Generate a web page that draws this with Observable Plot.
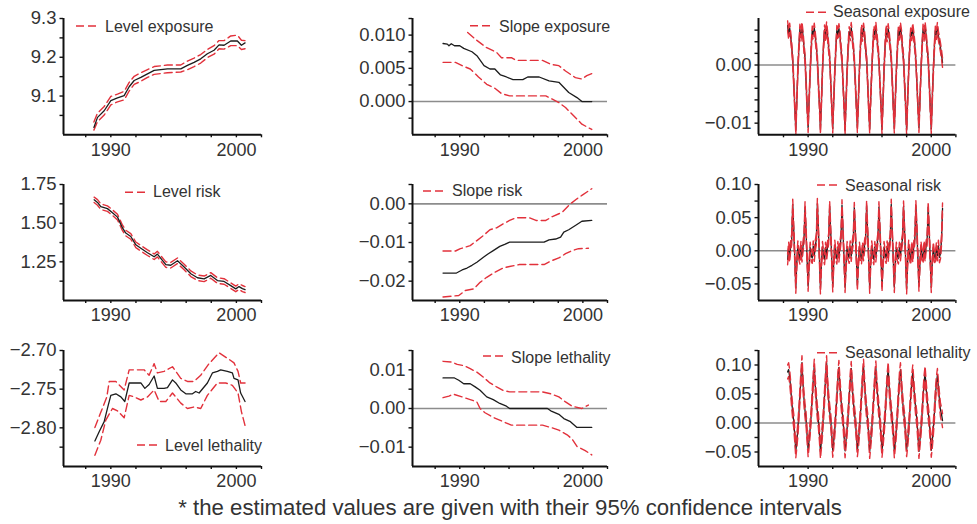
<!DOCTYPE html>
<html><head><meta charset="utf-8">
<script src="https://cdn.jsdelivr.net/npm/d3@7"></script>
<script src="https://cdn.jsdelivr.net/npm/@observablehq/plot@0.6"></script>
<style>
body{margin:0;background:#fff;font-family:"Liberation Sans",Arial,sans-serif;}
#fig{position:relative;width:977px;height:524px;overflow:hidden;background:#fff}
</style></head><body><div id="fig"></div><script>
// ---------- x axis ----------
const xTicks = [1988, 1990, 1992, 1994, 1996, 1998, 2000, 2002];
const xTickLabels = [1990, 2000];

// ---------- Level exposure ----------
const levelExposureYears = [1988.65, 1988.94, 1989.47, 1990.0, 1990.53, 1991.06, 1991.46, 1991.86, 1992.39, 1992.92, 1993.45, 1994.51, 1995.57, 1996.1, 1996.63, 1997.16, 1997.69, 1998.22, 1998.62, 1999.02, 1999.55, 2000.08, 2000.4, 2000.69];
const levelExposureEst = [9.019, 9.045, 9.062, 9.088, 9.095, 9.101, 9.124, 9.140, 9.148, 9.157, 9.166, 9.170, 9.170, 9.179, 9.187, 9.196, 9.209, 9.218, 9.232, 9.231, 9.242, 9.242, 9.231, 9.237];
const levelExposureUpper = [9.033, 9.056, 9.073, 9.099, 9.105, 9.112, 9.135, 9.151, 9.160, 9.168, 9.176, 9.180, 9.180, 9.190, 9.198, 9.207, 9.220, 9.230, 9.243, 9.243, 9.255, 9.257, 9.244, 9.243];
const levelExposureLower = [9.012, 9.034, 9.051, 9.077, 9.085, 9.090, 9.113, 9.130, 9.138, 9.148, 9.156, 9.160, 9.162, 9.168, 9.176, 9.185, 9.199, 9.208, 9.222, 9.221, 9.230, 9.230, 9.220, 9.222];
const levelExposureTicks = [9.05, 9.1, 9.15, 9.2, 9.25, 9.3];
const levelExposureTickLabels = [9.1, 9.2, 9.3];

// ---------- Slope exposure ----------
const slopeExposureYears = [1988.64, 1988.99, 1989.12, 1989.31, 1989.57, 1990.0, 1990.32, 1990.99, 1991.39, 1991.97, 1992.45, 1992.85, 1993.31, 1993.79, 1994.32, 1995.12, 1995.52, 1996.45, 1997.25, 1998.05, 1998.85, 1999.52, 1999.92, 2000.72];
const slopeExposureEst = [0.00874, 0.00864, 0.0084, 0.0087, 0.0084, 0.0084, 0.0080, 0.0075, 0.0069, 0.0054, 0.0049, 0.0049, 0.0040, 0.0037, 0.0033, 0.0033, 0.0037, 0.0037, 0.0031, 0.0029, 0.00136, 0.0006, 0.0, 0.0];
const slopeExposureUpperYears = [1990.64, 1991.39, 1992.19, 1992.99, 1993.39, 1994.19, 1994.59, 1996.72, 1997.39, 1998.05, 1998.59, 1999.39, 1999.92, 2000.32, 2000.72];
const slopeExposureUpper = [0.0104, 0.0092, 0.0081, 0.0074, 0.0066, 0.0066, 0.0062, 0.0062, 0.0056, 0.0054, 0.0046, 0.0036, 0.0034, 0.0039, 0.0042];
const slopeExposureLowerYears = [1988.64, 1989.65, 1990.19, 1990.85, 1991.52, 1992.19, 1992.85, 1993.39, 1994.05, 1996.99, 1997.52, 1998.05, 1998.59, 1999.39, 1999.92, 2000.72];
const slopeExposureLower = [0.0059, 0.0059, 0.0054, 0.0049, 0.0037, 0.0026, 0.0020, 0.0012, 0.00085, 0.00085, 0.00035, -0.00015, -0.0009, -0.0024, -0.0034, -0.0042];
const slopeExposureTicks = [-0.0025, 0, 0.0025, 0.005, 0.0075, 0.01, 0.0125];
const slopeExposureTickLabels = [0, 0.005, 0.01];

// ---------- Level risk ----------
const levelRiskYears = [1988.67, 1988.94, 1989.2, 1989.73, 1990.13, 1990.53, 1990.93, 1991.19, 1991.59, 1991.99, 1992.39, 1992.92, 1993.45, 1993.71, 1993.98, 1994.38, 1994.77, 1995.31, 1995.84, 1996.37, 1996.9, 1997.43, 1997.96, 1998.49, 1999.02, 1999.55, 1999.95, 2000.21, 2000.48, 2000.69];
const levelRiskEst = [1.651, 1.634, 1.607, 1.594, 1.568, 1.539, 1.469, 1.436, 1.414, 1.360, 1.338, 1.309, 1.283, 1.300, 1.272, 1.232, 1.228, 1.257, 1.217, 1.173, 1.147, 1.140, 1.162, 1.129, 1.123, 1.096, 1.075, 1.090, 1.077, 1.070];
const levelRiskUpper = [1.668, 1.652, 1.625, 1.612, 1.586, 1.557, 1.487, 1.454, 1.432, 1.378, 1.356, 1.327, 1.301, 1.318, 1.290, 1.250, 1.246, 1.275, 1.235, 1.191, 1.165, 1.158, 1.180, 1.147, 1.141, 1.114, 1.093, 1.108, 1.097, 1.090];
const levelRiskLower = [1.634, 1.616, 1.589, 1.576, 1.550, 1.521, 1.451, 1.418, 1.396, 1.342, 1.320, 1.291, 1.265, 1.282, 1.254, 1.214, 1.210, 1.239, 1.199, 1.155, 1.129, 1.122, 1.144, 1.111, 1.105, 1.078, 1.057, 1.072, 1.057, 1.052];
const levelRiskTicks = [1.125, 1.25, 1.375, 1.5, 1.625, 1.75];
const levelRiskTickLabels = [1.25, 1.5, 1.75];

// ---------- Slope risk ----------
const slopeRiskYears = [1988.64, 1989.73, 1990.19, 1990.59, 1990.99, 1991.39, 1991.92, 1992.32, 1992.72, 1993.25, 1993.65, 1994.05, 1996.85, 1997.25, 1997.79, 1998.19, 1998.45, 1998.85, 1999.39, 1999.92, 2000.72];
const slopeRiskEst = [-0.0179, -0.0179, -0.0171, -0.0166, -0.0159, -0.0151, -0.0138, -0.0129, -0.0121, -0.0110, -0.0105, -0.0099, -0.0099, -0.0093, -0.0091, -0.0086, -0.0073, -0.0067, -0.0056, -0.0045, -0.0043];
const slopeRiskUpperYears = [1988.64, 1989.65, 1990.05, 1990.85, 1991.39, 1991.92, 1992.45, 1992.99, 1993.52, 1994.05, 1994.59, 1995.65, 1996.19, 1996.99, 1997.52, 1998.32, 1998.99, 1999.52, 1999.92, 2000.72];
const slopeRiskUpper = [-0.0122, -0.0122, -0.0116, -0.0108, -0.0095, -0.0082, -0.0067, -0.0062, -0.0052, -0.0043, -0.0036, -0.0036, -0.0043, -0.0043, -0.0033, -0.0022, 0.0, 0.0013, 0.0022, 0.0039];
const slopeRiskLowerYears = [1988.64, 1989.92, 1990.45, 1991.12, 1991.65, 1992.19, 1992.85, 1993.52, 1994.05, 1994.85, 1996.85, 1997.39, 1998.05, 1998.59, 1999.12, 1999.65, 2000.45];
const slopeRiskLower = [-0.0241, -0.0237, -0.0224, -0.0220, -0.0203, -0.0190, -0.0177, -0.0166, -0.0162, -0.0157, -0.0157, -0.0148, -0.0140, -0.0129, -0.0121, -0.0116, -0.0115];
const slopeRiskTicks = [-0.02, -0.015, -0.01, -0.005, 0, 0.005];
const slopeRiskTickLabels = [-0.02, -0.01, 0];

// ---------- Level lethality ----------
const levelLethalityYears = [1988.73, 1989.07, 1989.47, 1989.79, 1990.0, 1990.4, 1990.8, 1991.11, 1991.46, 1991.86, 1992.39, 1992.71, 1993.05, 1993.45, 1993.71, 1994.24, 1994.51, 1994.91, 1995.17, 1995.57, 1995.97, 1996.5, 1996.76, 1997.03, 1997.69, 1998.09, 1998.49, 1998.75, 1999.28, 1999.68, 1999.81, 2000.13, 2000.34, 2000.69];
const levelLethalityEst = [-2.817, -2.805, -2.792, -2.771, -2.758, -2.756, -2.760, -2.766, -2.742, -2.742, -2.742, -2.749, -2.744, -2.733, -2.749, -2.749, -2.748, -2.738, -2.742, -2.751, -2.756, -2.756, -2.753, -2.755, -2.742, -2.729, -2.727, -2.725, -2.727, -2.729, -2.736, -2.738, -2.755, -2.766];
const levelLethalityUpperYears = [1988.73, 1989.2, 1989.68, 1989.87, 1990.4, 1991.06, 1991.46, 1992.65, 1993.05, 1993.45, 1993.71, 1994.24, 1994.91, 1995.57, 1996.1, 1996.63, 1997.16, 1997.82, 1998.62, 1999.28, 1999.81, 2000.13, 2000.34, 2000.69];
const levelLethalityUpper = [-2.7996, -2.780, -2.760, -2.740, -2.740, -2.751, -2.725, -2.725, -2.732, -2.717, -2.729, -2.727, -2.721, -2.736, -2.740, -2.740, -2.732, -2.717, -2.703, -2.710, -2.716, -2.727, -2.742, -2.742];
const levelLethalityLowerYears = [1988.73, 1989.2, 1989.6, 1990.13, 1990.53, 1991.06, 1991.46, 1991.86, 1992.39, 1992.92, 1993.45, 1993.85, 1994.38, 1994.91, 1995.57, 1996.1, 1996.63, 1997.16, 1997.69, 1998.49, 1999.15, 1999.68, 2000.13, 2000.4, 2000.69];
const levelLethalityLower = [-2.8355, -2.816, -2.790, -2.775, -2.778, -2.787, -2.758, -2.760, -2.764, -2.760, -2.751, -2.766, -2.766, -2.755, -2.768, -2.775, -2.773, -2.775, -2.758, -2.742, -2.742, -2.745, -2.755, -2.779, -2.797];
const levelLethalityTicks = [-2.825, -2.8, -2.775, -2.75, -2.725, -2.7];
const levelLethalityTickLabels = [-2.8, -2.75, -2.7];

// ---------- Slope lethality ----------
const slopeLethalityYears = [1988.64, 1989.57, 1989.92, 1990.32, 1990.85, 1991.25, 1991.65, 1992.19, 1992.72, 1993.25, 1993.79, 1994.05, 1997.12, 1997.39, 1998.05, 1998.45, 1998.99, 1999.52, 2000.19, 2000.72];
const slopeLethalityEst = [0.0079, 0.0079, 0.0073, 0.0064, 0.0064, 0.0056, 0.0047, 0.0030, 0.0023, 0.0013, 0.0006, 0.0, 0.0, -0.0006, -0.0015, -0.0026, -0.0034, -0.0049, -0.0049, -0.0049];
const slopeLethalityUpperYears = [1988.64, 1989.39, 1989.79, 1990.32, 1990.85, 1991.39, 1991.92, 1992.45, 1992.99, 1993.52, 1994.05, 1996.72, 1997.39, 1998.05, 1998.59, 1999.12, 1999.92, 2000.45];
const slopeLethalityUpper = [0.0122, 0.0120, 0.0114, 0.0111, 0.0103, 0.0094, 0.0081, 0.0066, 0.0056, 0.0047, 0.0043, 0.0043, 0.0038, 0.0030, 0.0017, 0.0006, 0.0, 0.0009];
const slopeLethalityLowerYears = [1988.64, 1989.12, 1989.47, 1990.19, 1990.85, 1991.39, 1991.65, 1992.05, 1992.72, 1993.52, 1994.19, 1996.72, 1997.39, 1998.05, 1998.72, 1999.12, 1999.52, 2000.19, 2000.72];
const slopeLethalityLower = [0.0028, 0.0032, 0.0037, 0.0030, 0.0023, 0.0017, 0.0, -0.0011, -0.0023, -0.0034, -0.0043, -0.0043, -0.0049, -0.0056, -0.0068, -0.0079, -0.0098, -0.0109, -0.0120];
const slopeLethalityTicks = [-0.01, -0.005, 0, 0.005, 0.01, 0.015];
const slopeLethalityTickLabels = [-0.01, 0, 0.01];

// ---------- Seasonal components: monthly, May 1988 .. Dec 2000 ----------
const seasonalFirstYear = 1988, seasonalFirstMonth = 5;
const seasonalExposureEst = [
 0.0068, 0.0052, 0.0064, 0.0049, 0.0031, 0.0009, -0.0031, -0.0071,
 -0.0112, -0.0061, -0.0008, 0.0031, 0.0062, 0.0049, 0.0066, 0.0051, 0.0029, 0.0011, -0.0029, -0.0072,
 -0.0108, -0.0058, -0.0012, 0.0029, 0.0059, 0.0052, 0.0064, 0.0048, 0.0031, 0.0009, -0.0032, -0.0068,
 -0.0111, -0.0062, -0.0009, 0.0032, 0.0061, 0.0048, 0.0066, 0.0050, 0.0030, 0.0012, -0.0028, -0.0071,
 -0.0109, -0.0059, -0.0011, 0.0028, 0.0060, 0.0051, 0.0063, 0.0052, 0.0029, 0.0010, -0.0031, -0.0069,
 -0.0112, -0.0061, -0.0010, 0.0030, 0.0058, 0.0050, 0.0065, 0.0049, 0.0032, 0.0008, -0.0030, -0.0070,
 -0.0108, -0.0060, -0.0009, 0.0031, 0.0062, 0.0049, 0.0064, 0.0051, 0.0028, 0.0011, -0.0029, -0.0072,
 -0.0110, -0.0058, -0.0012, 0.0029, 0.0059, 0.0052, 0.0066, 0.0048, 0.0030, 0.0009, -0.0032, -0.0068,
 -0.0111, -0.0062, -0.0008, 0.0032, 0.0061, 0.0048, 0.0063, 0.0050, 0.0031, 0.0012, -0.0028, -0.0071,
 -0.0109, -0.0059, -0.0011, 0.0028, 0.0060, 0.0051, 0.0065, 0.0052, 0.0029, 0.0010, -0.0031, -0.0069,
 -0.0112, -0.0061, -0.0010, 0.0030, 0.0058, 0.0050, 0.0064, 0.0049, 0.0032, 0.0008, -0.0030, -0.0070,
 -0.0108, -0.0060, -0.0009, 0.0031, 0.0062, 0.0049, 0.0066, 0.0051, 0.0028, 0.0011, -0.0029, -0.0072,
 -0.0110, -0.0058, -0.0012, 0.0029, 0.0059, 0.0052, 0.0065, 0.0050, 0.0040, 0.0030, 0.0018, 0.0004];
const seasonalExposureUpper = [
 0.0076, 0.0060, 0.0072, 0.0057, 0.0039, 0.0017, -0.0023, -0.0063,
 -0.0104, -0.0053, 0.0000, 0.0039, 0.0070, 0.0057, 0.0074, 0.0059, 0.0037, 0.0019, -0.0021, -0.0064,
 -0.0100, -0.0050, -0.0004, 0.0037, 0.0067, 0.0060, 0.0072, 0.0056, 0.0039, 0.0017, -0.0024, -0.0060,
 -0.0103, -0.0054, -0.0001, 0.0040, 0.0069, 0.0056, 0.0074, 0.0058, 0.0038, 0.0020, -0.0020, -0.0063,
 -0.0101, -0.0051, -0.0003, 0.0036, 0.0068, 0.0059, 0.0071, 0.0060, 0.0037, 0.0018, -0.0023, -0.0061,
 -0.0104, -0.0053, -0.0002, 0.0038, 0.0066, 0.0058, 0.0073, 0.0057, 0.0040, 0.0016, -0.0022, -0.0062,
 -0.0100, -0.0052, -0.0001, 0.0039, 0.0070, 0.0057, 0.0072, 0.0059, 0.0036, 0.0019, -0.0021, -0.0064,
 -0.0102, -0.0050, -0.0004, 0.0037, 0.0067, 0.0060, 0.0074, 0.0056, 0.0038, 0.0017, -0.0024, -0.0060,
 -0.0103, -0.0054, 0.0000, 0.0040, 0.0069, 0.0056, 0.0071, 0.0058, 0.0039, 0.0020, -0.0020, -0.0063,
 -0.0101, -0.0051, -0.0003, 0.0036, 0.0068, 0.0059, 0.0073, 0.0060, 0.0037, 0.0018, -0.0023, -0.0061,
 -0.0104, -0.0053, -0.0002, 0.0038, 0.0066, 0.0058, 0.0072, 0.0057, 0.0040, 0.0016, -0.0022, -0.0062,
 -0.0100, -0.0052, -0.0001, 0.0039, 0.0070, 0.0057, 0.0074, 0.0059, 0.0036, 0.0019, -0.0021, -0.0064,
 -0.0102, -0.0050, -0.0004, 0.0037, 0.0067, 0.0060, 0.0073, 0.0058, 0.0048, 0.0038, 0.0026, 0.0012];
const seasonalExposureLower = [
 0.0060, 0.0044, 0.0056, 0.0041, 0.0023, 0.0001, -0.0039, -0.0079,
 -0.0120, -0.0069, -0.0016, 0.0023, 0.0054, 0.0041, 0.0058, 0.0043, 0.0021, 0.0003, -0.0037, -0.0080,
 -0.0116, -0.0066, -0.0020, 0.0021, 0.0051, 0.0044, 0.0056, 0.0040, 0.0023, 0.0001, -0.0040, -0.0076,
 -0.0119, -0.0070, -0.0017, 0.0024, 0.0053, 0.0040, 0.0058, 0.0042, 0.0022, 0.0004, -0.0036, -0.0079,
 -0.0117, -0.0067, -0.0019, 0.0020, 0.0052, 0.0043, 0.0055, 0.0044, 0.0021, 0.0002, -0.0039, -0.0077,
 -0.0120, -0.0069, -0.0018, 0.0022, 0.0050, 0.0042, 0.0057, 0.0041, 0.0024, 0.0000, -0.0038, -0.0078,
 -0.0116, -0.0068, -0.0017, 0.0023, 0.0054, 0.0041, 0.0056, 0.0043, 0.0020, 0.0003, -0.0037, -0.0080,
 -0.0118, -0.0066, -0.0020, 0.0021, 0.0051, 0.0044, 0.0058, 0.0040, 0.0022, 0.0001, -0.0040, -0.0076,
 -0.0119, -0.0070, -0.0016, 0.0024, 0.0053, 0.0040, 0.0055, 0.0042, 0.0023, 0.0004, -0.0036, -0.0079,
 -0.0117, -0.0067, -0.0019, 0.0020, 0.0052, 0.0043, 0.0057, 0.0044, 0.0021, 0.0002, -0.0039, -0.0077,
 -0.0120, -0.0069, -0.0018, 0.0022, 0.0050, 0.0042, 0.0056, 0.0041, 0.0024, 0.0000, -0.0038, -0.0078,
 -0.0116, -0.0068, -0.0017, 0.0023, 0.0054, 0.0041, 0.0058, 0.0043, 0.0020, 0.0003, -0.0037, -0.0080,
 -0.0118, -0.0066, -0.0020, 0.0021, 0.0051, 0.0044, 0.0057, 0.0042, 0.0032, 0.0022, 0.0010, -0.0004];
const seasonalExposureTicks = [-0.01, -0.008, -0.006, -0.004, -0.002, 0, 0.002, 0.004, 0.006];
const seasonalExposureTickLabels = [-0.01, 0];

const seasonalRiskEst = [
 -0.013, 0.005, -0.009, 0.008, 0.017, 0.070, 0.031, -0.011,
 -0.056, -0.017, 0.007, -0.006, -0.012, 0.006, -0.009, 0.006, 0.019, 0.066, 0.028, -0.013,
 -0.053, -0.019, 0.005, -0.008, -0.011, 0.007, -0.008, 0.008, 0.017, 0.071, 0.032, -0.010,
 -0.057, -0.018, 0.006, -0.007, -0.013, 0.005, -0.007, 0.007, 0.018, 0.067, 0.029, -0.012,
 -0.054, -0.016, 0.008, -0.007, -0.012, 0.006, -0.009, 0.006, 0.019, 0.069, 0.031, -0.013,
 -0.055, -0.019, 0.006, -0.006, -0.011, 0.007, -0.008, 0.007, 0.017, 0.065, 0.030, -0.011,
 -0.052, -0.018, 0.005, -0.008, -0.012, 0.005, -0.007, 0.008, 0.018, 0.068, 0.029, -0.012,
 -0.056, -0.017, 0.007, -0.007, -0.013, 0.006, -0.009, 0.006, 0.019, 0.066, 0.031, -0.010,
 -0.054, -0.019, 0.006, -0.006, -0.011, 0.007, -0.008, 0.007, 0.017, 0.070, 0.028, -0.013,
 -0.055, -0.018, 0.005, -0.008, -0.012, 0.005, -0.007, 0.008, 0.018, 0.067, 0.030, -0.011,
 -0.057, -0.016, 0.008, -0.007, -0.013, 0.006, -0.009, 0.006, 0.019, 0.068, 0.032, -0.012,
 -0.053, -0.018, 0.006, -0.006, -0.011, 0.007, -0.008, 0.007, 0.017, 0.066, 0.029, -0.013,
 -0.055, -0.017, 0.005, -0.008, -0.012, 0.005, -0.007, 0.008, -0.010, -0.004, 0.016, 0.064];
const seasonalRiskUpper = [
 -0.005, 0.013, -0.001, 0.016, 0.025, 0.078, 0.039, -0.003,
 -0.048, -0.009, 0.015, 0.002, -0.004, 0.014, -0.001, 0.014, 0.027, 0.074, 0.036, -0.005,
 -0.045, -0.011, 0.013, 0.000, -0.003, 0.015, 0.000, 0.016, 0.025, 0.079, 0.040, -0.002,
 -0.049, -0.010, 0.014, 0.001, -0.005, 0.013, 0.001, 0.015, 0.026, 0.075, 0.037, -0.004,
 -0.046, -0.008, 0.016, 0.001, -0.004, 0.014, -0.001, 0.014, 0.027, 0.077, 0.039, -0.005,
 -0.047, -0.011, 0.014, 0.002, -0.003, 0.015, 0.000, 0.015, 0.025, 0.073, 0.038, -0.003,
 -0.044, -0.010, 0.013, 0.000, -0.004, 0.013, 0.001, 0.016, 0.026, 0.076, 0.037, -0.004,
 -0.048, -0.009, 0.015, 0.001, -0.005, 0.014, -0.001, 0.014, 0.027, 0.074, 0.039, -0.002,
 -0.046, -0.011, 0.014, 0.002, -0.003, 0.015, 0.000, 0.015, 0.025, 0.078, 0.036, -0.005,
 -0.047, -0.010, 0.013, 0.000, -0.004, 0.013, 0.001, 0.016, 0.026, 0.075, 0.038, -0.003,
 -0.049, -0.008, 0.016, 0.001, -0.005, 0.014, -0.001, 0.014, 0.027, 0.076, 0.040, -0.004,
 -0.045, -0.010, 0.014, 0.002, -0.003, 0.015, 0.000, 0.015, 0.025, 0.074, 0.037, -0.005,
 -0.047, -0.009, 0.013, 0.000, -0.004, 0.013, 0.001, 0.016, -0.002, 0.004, 0.024, 0.072];
const seasonalRiskLower = [
 -0.021, -0.003, -0.017, 0.000, 0.009, 0.062, 0.023, -0.019,
 -0.064, -0.025, -0.001, -0.014, -0.020, -0.002, -0.017, -0.002, 0.011, 0.058, 0.020, -0.021,
 -0.061, -0.027, -0.003, -0.016, -0.019, -0.001, -0.016, 0.000, 0.009, 0.063, 0.024, -0.018,
 -0.065, -0.026, -0.002, -0.015, -0.021, -0.003, -0.015, -0.001, 0.010, 0.059, 0.021, -0.020,
 -0.062, -0.024, 0.000, -0.015, -0.020, -0.002, -0.017, -0.002, 0.011, 0.061, 0.023, -0.021,
 -0.063, -0.027, -0.002, -0.014, -0.019, -0.001, -0.016, -0.001, 0.009, 0.057, 0.022, -0.019,
 -0.060, -0.026, -0.003, -0.016, -0.020, -0.003, -0.015, 0.000, 0.010, 0.060, 0.021, -0.020,
 -0.064, -0.025, -0.001, -0.015, -0.021, -0.002, -0.017, -0.002, 0.011, 0.058, 0.023, -0.018,
 -0.062, -0.027, -0.002, -0.014, -0.019, -0.001, -0.016, -0.001, 0.009, 0.062, 0.020, -0.021,
 -0.063, -0.026, -0.003, -0.016, -0.020, -0.003, -0.015, 0.000, 0.010, 0.059, 0.022, -0.019,
 -0.065, -0.024, 0.000, -0.015, -0.021, -0.002, -0.017, -0.002, 0.011, 0.060, 0.024, -0.020,
 -0.061, -0.026, -0.002, -0.014, -0.019, -0.001, -0.016, -0.001, 0.009, 0.058, 0.021, -0.021,
 -0.063, -0.025, -0.003, -0.016, -0.020, -0.003, -0.015, 0.000, -0.018, -0.012, 0.008, 0.056];
const seasonalRiskTicks = [-0.05, -0.025, 0, 0.025, 0.05, 0.075, 0.1];
const seasonalRiskTickLabels = [-0.05, 0, 0.05, 0.1];

const seasonalLethalityEst = [
 0.088, 0.092, 0.080, 0.060, 0.038, 0.018, 0.003, -0.022,
 -0.048, -0.031, -0.011, 0.016, 0.047, 0.078, 0.104, 0.068, 0.041, 0.021, 0.006, -0.021,
 -0.046, -0.029, -0.009, 0.014, 0.044, 0.074, 0.098, 0.064, 0.039, 0.019, 0.004, -0.019,
 -0.049, -0.031, -0.010, 0.015, 0.046, 0.077, 0.104, 0.066, 0.040, 0.020, 0.005, -0.020,
 -0.047, -0.030, -0.011, 0.016, 0.045, 0.075, 0.096, 0.065, 0.041, 0.021, 0.006, -0.021,
 -0.048, -0.029, -0.009, 0.014, 0.044, 0.073, 0.094, 0.063, 0.039, 0.019, 0.004, -0.019,
 -0.046, -0.031, -0.010, 0.015, 0.046, 0.076, 0.098, 0.066, 0.040, 0.020, 0.005, -0.020,
 -0.049, -0.030, -0.011, 0.016, 0.045, 0.074, 0.095, 0.064, 0.041, 0.021, 0.006, -0.021,
 -0.047, -0.029, -0.009, 0.014, 0.044, 0.073, 0.093, 0.063, 0.039, 0.019, 0.004, -0.019,
 -0.048, -0.031, -0.010, 0.015, 0.046, 0.075, 0.092, 0.065, 0.040, 0.020, 0.005, -0.020,
 -0.046, -0.030, -0.011, 0.016, 0.045, 0.072, 0.088, 0.062, 0.041, 0.021, 0.006, -0.021,
 -0.049, -0.029, -0.009, 0.014, 0.044, 0.070, 0.086, 0.061, 0.039, 0.019, 0.004, -0.019,
 -0.047, -0.031, -0.010, 0.015, 0.046, 0.068, 0.082, 0.060, 0.040, 0.022, 0.015, 0.004];
const seasonalLethalityUpper = [
 0.100, 0.104, 0.092, 0.072, 0.050, 0.030, 0.015, -0.010,
 -0.036, -0.019, 0.001, 0.028, 0.059, 0.090, 0.116, 0.080, 0.053, 0.033, 0.018, -0.009,
 -0.034, -0.017, 0.003, 0.026, 0.056, 0.086, 0.110, 0.076, 0.051, 0.031, 0.016, -0.007,
 -0.037, -0.019, 0.002, 0.027, 0.058, 0.089, 0.116, 0.078, 0.052, 0.032, 0.017, -0.008,
 -0.035, -0.018, 0.001, 0.028, 0.057, 0.087, 0.108, 0.077, 0.053, 0.033, 0.018, -0.009,
 -0.036, -0.017, 0.003, 0.026, 0.056, 0.085, 0.106, 0.075, 0.051, 0.031, 0.016, -0.007,
 -0.034, -0.019, 0.002, 0.027, 0.058, 0.088, 0.110, 0.078, 0.052, 0.032, 0.017, -0.008,
 -0.037, -0.018, 0.001, 0.028, 0.057, 0.086, 0.107, 0.076, 0.053, 0.033, 0.018, -0.009,
 -0.035, -0.017, 0.003, 0.026, 0.056, 0.085, 0.105, 0.075, 0.051, 0.031, 0.016, -0.007,
 -0.036, -0.019, 0.002, 0.027, 0.058, 0.087, 0.104, 0.077, 0.052, 0.032, 0.017, -0.008,
 -0.034, -0.018, 0.001, 0.028, 0.057, 0.084, 0.100, 0.074, 0.053, 0.033, 0.018, -0.009,
 -0.037, -0.017, 0.003, 0.026, 0.056, 0.082, 0.098, 0.073, 0.051, 0.031, 0.016, -0.007,
 -0.035, -0.019, 0.002, 0.027, 0.058, 0.080, 0.094, 0.072, 0.052, 0.034, 0.027, 0.016];
const seasonalLethalityLower = [
 0.076, 0.080, 0.068, 0.048, 0.026, 0.006, -0.009, -0.034,
 -0.060, -0.043, -0.023, 0.004, 0.035, 0.066, 0.092, 0.056, 0.029, 0.009, -0.006, -0.033,
 -0.058, -0.041, -0.021, 0.002, 0.032, 0.062, 0.086, 0.052, 0.027, 0.007, -0.008, -0.031,
 -0.061, -0.043, -0.022, 0.003, 0.034, 0.065, 0.092, 0.054, 0.028, 0.008, -0.007, -0.032,
 -0.059, -0.042, -0.023, 0.004, 0.033, 0.063, 0.084, 0.053, 0.029, 0.009, -0.006, -0.033,
 -0.060, -0.041, -0.021, 0.002, 0.032, 0.061, 0.082, 0.051, 0.027, 0.007, -0.008, -0.031,
 -0.058, -0.043, -0.022, 0.003, 0.034, 0.064, 0.086, 0.054, 0.028, 0.008, -0.007, -0.032,
 -0.061, -0.042, -0.023, 0.004, 0.033, 0.062, 0.083, 0.052, 0.029, 0.009, -0.006, -0.033,
 -0.059, -0.041, -0.021, 0.002, 0.032, 0.061, 0.081, 0.051, 0.027, 0.007, -0.008, -0.031,
 -0.060, -0.043, -0.022, 0.003, 0.034, 0.063, 0.080, 0.053, 0.028, 0.008, -0.007, -0.032,
 -0.058, -0.042, -0.023, 0.004, 0.033, 0.060, 0.076, 0.050, 0.029, 0.009, -0.006, -0.033,
 -0.061, -0.041, -0.021, 0.002, 0.032, 0.058, 0.074, 0.049, 0.027, 0.007, -0.008, -0.031,
 -0.059, -0.043, -0.022, 0.003, 0.034, 0.056, 0.070, 0.048, 0.028, 0.010, 0.003, -0.008];
const seasonalLethalityTicks = [-0.05, -0.025, 0, 0.025, 0.05, 0.075, 0.1, 0.125];
const seasonalLethalityTickLabels = [-0.05, 0, 0.05, 0.1];

const legendNames = ["Level exposure", "Slope exposure", "Seasonal exposure", "Level risk", "Slope risk", "Seasonal risk", "Level lethality", "Slope lethality", "Seasonal lethality"];
const captionText = "* the estimated values are given with their 95% confidence intervals";

// ---------- helpers ----------
const pts = (ts, vs) => vs.map((v, i) => ({t: ts[i], v}));
const monthly = vs => vs.map((v, i) => ({t: seasonalFirstYear + (seasonalFirstMonth - 1 + i) / 12, v}));

// ---------- layout ----------
const cols = [
  {left: 62.7, right: 260.7, domain: [1986.23, 2002]},
  {left: 412.3, right: 607.3, domain: [1986.16, 2002]},
  {left: 758.3, right: 955.7, domain: [1985.97, 2002]}
];
const rows = [{top: 18, bottom: 134.3}, {top: 184, bottom: 300}, {top: 350, bottom: 466}];
const BLACK = "#1c1c1c", RED = "#e2313b";

const panels = [
  {c:0, r:0, y:[9.0, 9.3], dec:1, ticks:levelExposureTicks, labels:levelExposureTickLabels, zero:false,
   est: pts(levelExposureYears, levelExposureEst), hi: pts(levelExposureYears, levelExposureUpper), lo: pts(levelExposureYears, levelExposureLower)},
  {c:1, r:0, y:[-0.005, 0.0125], dec:3, ticks:slopeExposureTicks, labels:slopeExposureTickLabels, zero:true,
   est: pts(slopeExposureYears, slopeExposureEst), hi: pts(slopeExposureUpperYears, slopeExposureUpper), lo: pts(slopeExposureLowerYears, slopeExposureLower)},
  {c:2, r:0, y:[-0.012, 0.008], dec:2, ticks:seasonalExposureTicks, labels:seasonalExposureTickLabels, zero:true, redTop:true,
   est: monthly(seasonalExposureEst), hi: monthly(seasonalExposureUpper), lo: monthly(seasonalExposureLower)},
  {c:0, r:1, y:[1.0, 1.75], dec:2, ticks:levelRiskTicks, labels:levelRiskTickLabels, zero:false,
   est: pts(levelRiskYears, levelRiskEst), hi: pts(levelRiskYears, levelRiskUpper), lo: pts(levelRiskYears, levelRiskLower)},
  {c:1, r:1, y:[-0.025, 0.005], dec:2, ticks:slopeRiskTicks, labels:slopeRiskTickLabels, zero:true,
   est: pts(slopeRiskYears, slopeRiskEst), hi: pts(slopeRiskUpperYears, slopeRiskUpper), lo: pts(slopeRiskLowerYears, slopeRiskLower)},
  {c:2, r:1, y:[-0.075, 0.10], dec:2, ticks:seasonalRiskTicks, labels:seasonalRiskTickLabels, zero:true, redTop:true,
   est: monthly(seasonalRiskEst), hi: monthly(seasonalRiskUpper), lo: monthly(seasonalRiskLower)},
  {c:0, r:2, y:[-2.85, -2.70], dec:2, ticks:levelLethalityTicks, labels:levelLethalityTickLabels, zero:false,
   est: pts(levelLethalityYears, levelLethalityEst), hi: pts(levelLethalityUpperYears, levelLethalityUpper), lo: pts(levelLethalityLowerYears, levelLethalityLower)},
  {c:1, r:2, y:[-0.015, 0.015], dec:2, ticks:slopeLethalityTicks, labels:slopeLethalityTickLabels, zero:true,
   est: pts(slopeLethalityYears, slopeLethalityEst), hi: pts(slopeLethalityUpperYears, slopeLethalityUpper), lo: pts(slopeLethalityLowerYears, slopeLethalityLower)},
  {c:2, r:2, y:[-0.075, 0.125], dec:2, ticks:seasonalLethalityTicks, labels:seasonalLethalityTickLabels, zero:true, redTop:true,
   est: monthly(seasonalLethalityEst), hi: monthly(seasonalLethalityUpper), lo: monthly(seasonalLethalityLower)}
];

const fig = document.getElementById("fig");
const fmtNum = (d, dec) => (d < -1e-12 ? "\u2212" : "") + Math.abs(d).toFixed(dec);

panels.forEach(p => {
  const c = cols[p.c], r = rows[p.r];
  const mL = 62, mR = 8, mT = 6, mB = 32;
  const w = c.right - c.left, h = r.bottom - r.top;
  const black = Plot.line(p.est, {x: "t", y: "v", stroke: BLACK, strokeWidth: 1.3});
  const reds = [p.hi, p.lo].map(s => Plot.line(s, {x: "t", y: "v", stroke: RED, strokeWidth: 1.4, strokeDasharray: "8,4"}));
  const svg = Plot.plot({
    width: mL + w + mR, height: mT + h + mB,
    marginLeft: mL, marginRight: mR, marginTop: mT, marginBottom: mB,
    x: {domain: c.domain, label: null},
    y: {domain: p.y, label: null},
    style: {background: "transparent", overflow: "visible", fontFamily: "'Liberation Sans', Arial, sans-serif"},
    marks: [
      Plot.axisY({ticks: p.ticks, label: null, tickSize: 3.5, tickPadding: 3.5, fontSize: 18.5,
        stroke: "#111", strokeWidth: 1.4, fill: "#333",
        tickFormat: d => p.labels.some(l => Math.abs(l - d) < 1e-9) ? fmtNum(d, p.dec) : ""}),
      Plot.axisX({ticks: xTicks, label: null, tickSize: 3, tickPadding: 5, fontSize: 18,
        stroke: "#111", strokeWidth: 1.4, fill: "#333",
        tickFormat: d => xTickLabels.includes(d) ? String(d) : ""}),
      p.zero ? Plot.ruleY([0], {stroke: "#8c8c8c", strokeWidth: 1.6}) : null,
      ...(p.redTop ? [black, ...reds] : [...reds, black]),
      Plot.ruleX([c.domain[0]], {stroke: "#111", strokeWidth: 2}),
      Plot.ruleY([p.y[0]], {stroke: "#111", strokeWidth: 2})
    ]
  });
  svg.style.position = "absolute";
  svg.style.left = (c.left - mL) + "px";
  svg.style.top = (r.top - mT) + "px";
  svg.style.maxWidth = "none";
  fig.appendChild(svg);
});

// ---------- legends and caption ----------
const legendLayout = [
  [76, 97, 26, 105, 32.3], [470, 492, 25.7, 499, 31.7], [806, 827, 12.3, 833, 16.7],
  [125, 146, 192.3, 153, 197.3], [423, 445, 191, 452, 196], [817, 838, 185, 845, 190.7],
  [137, 157, 445, 165, 450.7], [483, 503, 356, 511, 362.7], [817, 838, 352.7, 845, 358.3]
];
const ov = d3.select(fig).append("svg")
  .attr("width", 977).attr("height", 524)
  .style("position", "absolute").style("left", "0px").style("top", "0px")
  .style("pointer-events", "none")
  .style("font-family", "'Liberation Sans', Arial, sans-serif");
legendNames.forEach((name, i) => {
  const [x1, x2, y, tx, ty] = legendLayout[i];
  ov.append("line").attr("x1", x1).attr("x2", x2).attr("y1", y).attr("y2", y)
    .attr("stroke", RED).attr("stroke-width", 1.5).attr("stroke-dasharray", "8,4");
  ov.append("text").attr("x", tx).attr("y", ty).attr("font-size", 16).attr("fill", "#333").text(name);
});
ov.append("text").attr("x", 510).attr("y", 515).attr("text-anchor", "middle")
  .attr("font-size", 22.2).attr("fill", "#333").text(captionText);
</script></body></html>
